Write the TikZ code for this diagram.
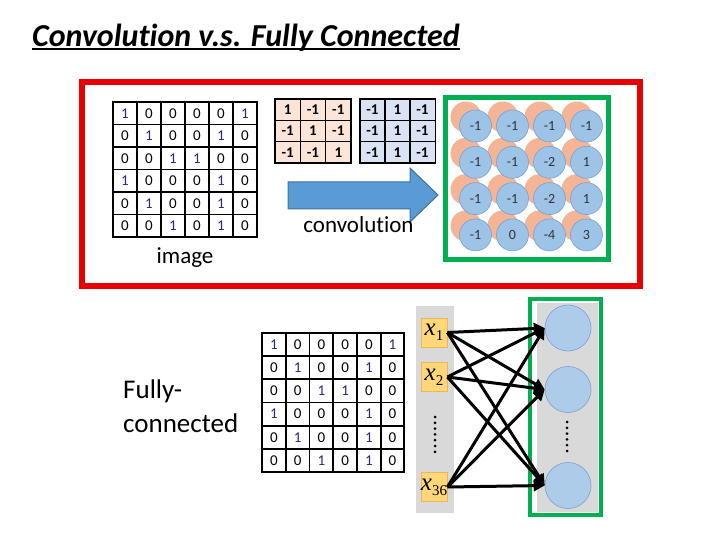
\documentclass[tikz,border=0pt]{standalone}
\usepackage{fontspec}
\setmainfont{Carlito}[Ligatures=NoCommon]
\newfontfamily\timesfont{Liberation Serif}
\usepackage{tikz}
\usetikzlibrary{arrows.meta}

\definecolor{redframe}{RGB}{232,0,0}
\definecolor{greenframe}{RGB}{0,176,80}
\definecolor{onecol}{RGB}{40,40,130}
\definecolor{filtA}{RGB}{251,229,214}
\definecolor{filtB}{RGB}{218,227,243}
\definecolor{arrowfill}{RGB}{91,155,213}
\definecolor{arrowline}{RGB}{65,113,156}
\definecolor{backcirc}{RGB}{244,180,150}
\definecolor{frontcirc}{RGB}{157,195,230}
\definecolor{circline}{RGB}{120,160,210}
\definecolor{panel}{RGB}{217,217,217}
\definecolor{xfill}{RGB}{255,214,120}
\definecolor{xline}{RGB}{240,180,90}

\tikzset{
  cell/.style={draw,line width=1.8pt,minimum width=24pt,minimum height=22.5pt,inner sep=0pt,
    font=\fontsize{15}{15}\selectfont},
  fcell/.style={draw,line width=1.3pt,minimum width=25.3pt,minimum height=21.3pt,inner sep=0pt,
    font=\bfseries\fontsize{15}{15}\selectfont},
  backc/.style={circle,fill=backcirc,minimum size=31pt,inner sep=0pt},
  frontc/.style={circle,fill=frontcirc,draw=circline,line width=0.6pt,minimum size=32pt,inner sep=0pt,
    font=\fontsize{14}{14}\selectfont,text=black!80},
  xbox/.style={rectangle,fill=xfill,draw=xline,line width=0.8pt,minimum width=26pt,minimum height=29pt,
    inner sep=0pt,font=\timesfont\fontsize{25}{25}\selectfont},
  unit/.style={circle,fill=frontcirc!85!white,draw=circline,line width=0.6pt,minimum size=46pt,inner sep=0pt},
  link/.style={line width=3pt,-{Triangle[length=11pt,width=11pt]}},
  dotline/.style={line width=3pt,line cap=round,dash pattern=on 0pt off 5.8pt},
  label/.style={inner sep=0pt,font=\fontsize{23}{23}\selectfont}
}
\newcommand{\xsub}[1]{\textit{x}\raisebox{-0.45ex}{\fontsize{15}{15}\selectfont #1}}

\begin{document}
\begin{tikzpicture}[x=1pt,y=-1pt]
  \useasboundingbox (0,0) rectangle (720,540);

  % title
  \node[anchor=base west,inner sep=0pt,font=\bfseries\itshape\fontsize{32}{32}\selectfont] (title) at (32,46.5)
    {Convolution v.s. Fully Connected};
  \draw[line width=2pt] ([yshift=-3pt]title.base west) -- ([yshift=-3pt]title.base east);

  % convolution part
  \draw[redframe,line width=5.5pt] (82,82) rectangle (640,286);

  \foreach \vals [count=\r from 0] in {{1,0,0,0,0,1},{0,1,0,0,1,0},{0,0,1,1,0,0},{1,0,0,0,1,0},{0,1,0,0,1,0},{0,0,1,0,1,0}}
    \foreach \v [count=\c from 0] in \vals
      \node[cell] (img-\r-\c) at (125+24*\c,113.25+22.5*\r) {\ifnum\v=1 \color{onecol}\fi\v};
  \node[label,anchor=base] (imgname) at (185,263) {image};

  \foreach \vals [count=\r from 0] in {{1,-1,-1},{-1,1,-1},{-1,-1,1}}
    \foreach \v [count=\c from 0] in \vals
      \node[fcell,fill=filtA] (fa-\r-\c) at (287.7+25.3*\c,109.7+21.3*\r) {\v};
  \foreach \vals [count=\r from 0] in {{-1,1,-1},{-1,1,-1},{-1,1,-1}}
    \foreach \v [count=\c from 0] in \vals
      \node[fcell,fill=filtB] (fb-\r-\c) at (372.5+25*\c,109.7+21.3*\r) {\v};

  % big arrow
  \draw[fill=arrowfill,draw=arrowline,line width=1pt,line join=miter]
    (288,182) -- (410,182) -- (410,168) -- (438,195) -- (410,222) -- (410,209) -- (288,209) -- cycle;
  \node[label,anchor=base] (convname) at (358.5,233) {convolution};

  \draw[greenframe,line width=5pt] (445.5,97.5) rectangle (608,259.5);
  \foreach \vals [count=\r from 0] in {{-1,-1,-1,-1},{-1,-1,-2,1},{-1,-1,-2,1},{-1,0,-4,3}}
    \foreach \v [count=\c from 0] in \vals
      \node[backc] (bk-\r-\c) at (466+37*\c,117+36.3*\r) {};
  \foreach \vals [count=\r from 0] in {{-1,-1,-1,-1},{-1,-1,-2,1},{-1,-1,-2,1},{-1,0,-4,3}}
    \foreach \v [count=\c from 0] in \vals
      \node[frontc] (fm-\r-\c) at (475.5+37*\c,126+36.3*\r) {\v};

  % fully connected part
  \node[anchor=base west,align=left,inner sep=0pt,font=\fontsize{27}{34}\selectfont] (fcname) at (123,432)
    {Fully-\\connected};

  \foreach \vals [count=\r from 0] in {{1,0,0,0,0,1},{0,1,0,0,1,0},{0,0,1,1,0,0},{1,0,0,0,1,0},{0,1,0,0,1,0},{0,0,1,0,1,0}}
    \foreach \v [count=\c from 0] in \vals
      \node[cell,minimum width=23.7pt,minimum height=23.2pt] (fc-\r-\c) at (274+23.7*\c,344.5+23.2*\r) {\ifnum\v=1 \color{onecol}\fi\v};

  \fill[panel] (416,306) rectangle (454,513);
  \node[xbox] (x1) at (434,332.5) {\xsub{1}};
  \node[xbox] (x2) at (434,377) {\xsub{2}};
  \node[xbox] (x36) at (434,487) {\xsub{36}};
  \draw[dotline] (435,417) -- (435,453);

  \fill[panel] (537,303) rectangle (598,512);
  \draw[greenframe,line width=4.5pt] (530,299) rectangle (601,515);
  \node[unit] (h1) at (568,328) {};
  \node[unit] (h2) at (568,389.5) {};
  \node[unit] (h3) at (568,485.5) {};
  \draw[dotline] (567,422) -- (567,456);

  \foreach \i in {x1,x2,x36}
    \foreach \j in {h1,h2,h3}
      \draw[link] (\i.east) -- (\j.west);
\end{tikzpicture}
\end{document}
